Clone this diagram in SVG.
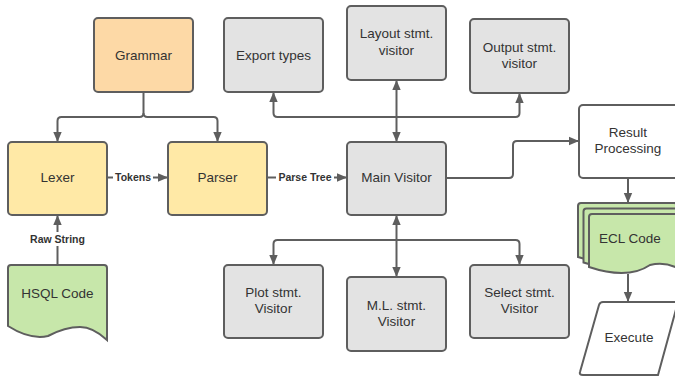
<svg xmlns="http://www.w3.org/2000/svg" width="675" height="377" viewBox="0 0 675 377">
  <style>
    .box { stroke: #5e5e5e; stroke-width: 2; }
    .orange { fill: #fdd9a6; }
    .yellow { fill: #ffe9a6; }
    .gray { fill: #e3e3e3; }
    .green { fill: #c7e7aa; }
    .white { fill: #ffffff; }
    .t { font-family: "Liberation Sans", Arial, sans-serif; font-size: 13.5px; fill: #333333; text-anchor: middle; }
    .lbl { font-family: "Liberation Sans", Arial, sans-serif; font-size: 10.5px; font-weight: bold; fill: #333333; text-anchor: middle; }
    .wire { fill: none; stroke: #5e5e5e; stroke-width: 2; }
  </style>
  <defs>
    <marker id="arrow" markerUnits="userSpaceOnUse" markerWidth="10" markerHeight="10" viewBox="0 0 10 10" refX="10" refY="5" orient="auto-start-reverse">
      <path d="M0,0.8 L10,5 L0,9.2 Z" fill="#5e5e5e"/>
    </marker>
  </defs>

  <rect width="675" height="377" fill="#ffffff"/>

  <!-- connectors -->
  <g id="connectors">
    <!-- Grammar splits to Lexer and Parser -->
    <path class="wire" d="M143.5,92 V113 Q143.5,117 139.5,117 H61.5 Q57.5,117 57.5,121 V142" marker-end="url(#arrow)"/>
    <path class="wire" d="M143.5,113 Q143.5,117 147.5,117 H213.5 Q217.5,117 217.5,121 V142" marker-end="url(#arrow)"/>
    <!-- HSQL Code to Lexer -->
    <path class="wire" d="M57.5,265 V215" marker-end="url(#arrow)"/>
    <!-- Lexer to Parser -->
    <path class="wire" d="M107,177.5 H168" marker-end="url(#arrow)"/>
    <!-- Parser to Main Visitor -->
    <path class="wire" d="M267,177.5 H347" marker-end="url(#arrow)"/>
    <!-- top visitors bus -->
    <path class="wire" d="M396.5,117 H277.5 Q273.5,117 273.5,113 V92" marker-end="url(#arrow)"/>
    <path class="wire" d="M396.5,117 H515.5 Q519.5,117 519.5,113 V93" marker-end="url(#arrow)"/>
    <path class="wire" d="M396.5,80 V142" marker-start="url(#arrow)" marker-end="url(#arrow)"/>
    <!-- bottom visitors bus -->
    <path class="wire" d="M396.5,240 H277.5 Q273.5,240 273.5,244 V265" marker-end="url(#arrow)"/>
    <path class="wire" d="M396.5,240 H515.5 Q519.5,240 519.5,244 V265" marker-end="url(#arrow)"/>
    <path class="wire" d="M396.5,215 V277" marker-start="url(#arrow)" marker-end="url(#arrow)"/>
    <!-- Main Visitor to Result Processing -->
    <path class="wire" d="M446,178 H509 Q513,178 513,174 V145 Q513,141 517,141 H579" marker-end="url(#arrow)"/>
    <!-- Result Processing to ECL Code -->
    <path class="wire" d="M628,178 V203" marker-end="url(#arrow)"/>
    <!-- ECL Code to Execute -->
    <path class="wire" d="M628,274 V302" marker-end="url(#arrow)"/>

    <!-- connector labels -->
    <rect x="113" y="171" width="40" height="13" fill="#ffffff"/>
    <text class="lbl" x="133" y="181">Tokens</text>
    <rect x="276" y="171" width="58" height="13" fill="#ffffff"/>
    <text class="lbl" x="305" y="181">Parse Tree</text>
    <rect x="28" y="232" width="59" height="14" fill="#ffffff"/>
    <text class="lbl" x="57.5" y="243">Raw String</text>
  </g>

  <g id="grammar">
    <rect class="box orange" x="94" y="18" width="99" height="74" rx="4"/>
    <text class="t" x="143.5" y="60">Grammar</text>
  </g>

  <g id="lexer">
    <rect class="box yellow" x="8" y="142" width="99" height="73" rx="4"/>
    <text class="t" x="57.5" y="182">Lexer</text>
  </g>

  <g id="parser">
    <rect class="box yellow" x="168" y="142" width="99" height="73" rx="4"/>
    <text class="t" x="217.5" y="182">Parser</text>
  </g>

  <g id="hsql-code">
    <path class="box green" d="M8,268 Q8,265 11,265 H104 Q107,265 107,268 V340 Q93,327 80,327 Q65,327 48,336 Q30,340 8,326 Z"/>
    <text class="t" x="57.5" y="298">HSQL Code</text>
  </g>

  <g id="export-types">
    <rect class="box gray" x="224" y="18" width="99" height="74" rx="4"/>
    <text class="t" x="273.5" y="60">Export types</text>
  </g>

  <g id="layout-visitor">
    <rect class="box gray" x="347" y="6" width="99" height="74" rx="4"/>
    <text class="t" x="396.5" y="38">Layout stmt.</text>
    <text class="t" x="396.5" y="55">visitor</text>
  </g>

  <g id="output-visitor">
    <rect class="box gray" x="470" y="19" width="99" height="74" rx="4"/>
    <text class="t" x="519.5" y="52">Output stmt.</text>
    <text class="t" x="519.5" y="68">visitor</text>
  </g>

  <g id="main-visitor">
    <rect class="box gray" x="347" y="142" width="99" height="73" rx="4"/>
    <text class="t" x="396.5" y="182">Main Visitor</text>
  </g>

  <g id="plot-visitor">
    <rect class="box gray" x="224" y="265" width="99" height="73" rx="4"/>
    <text class="t" x="273.5" y="297">Plot stmt.</text>
    <text class="t" x="273.5" y="313">Visitor</text>
  </g>

  <g id="ml-visitor">
    <rect class="box gray" x="347" y="277" width="99" height="74" rx="4"/>
    <text class="t" x="396.5" y="310">M.L. stmt.</text>
    <text class="t" x="396.5" y="326">Visitor</text>
  </g>

  <g id="select-visitor">
    <rect class="box gray" x="470" y="265" width="99" height="73" rx="4"/>
    <text class="t" x="519.5" y="297">Select stmt.</text>
    <text class="t" x="519.5" y="313">Visitor</text>
  </g>

  <g id="result-processing">
    <rect class="box white" x="579" y="105" width="99" height="73" rx="4"/>
    <text class="t" x="628" y="137">Result</text>
    <text class="t" x="628" y="153">Processing</text>
  </g>

  <g id="ecl-code">
    <path class="box green" d="M578,206 Q578,203 581,203 H674 Q677,203 677,206 V262 Q660,253 640,258 Q612,268 578,257 Z"/>
    <path class="box green" d="M583.5,211.5 Q583.5,208.5 586.5,208.5 H679.5 Q682.5,208.5 682.5,211.5 V267.5 Q665.5,258.5 645.5,263.5 Q617.5,273.5 583.5,262.5 Z"/>
    <path class="box green" d="M589,217 Q589,214 592,214 H685 Q688,214 688,217 V275 Q670,260 650,265 Q628,280 589,267 Z"/>
    <text class="t" x="630" y="243">ECL Code</text>
  </g>

  <g id="execute">
    <path class="box white" d="M603,302 H678 L658,375 H583 Q579,375 580,372 L599,305 Q600,302 603,302 Z"/>
    <text class="t" x="629" y="342">Execute</text>
  </g>
</svg>
